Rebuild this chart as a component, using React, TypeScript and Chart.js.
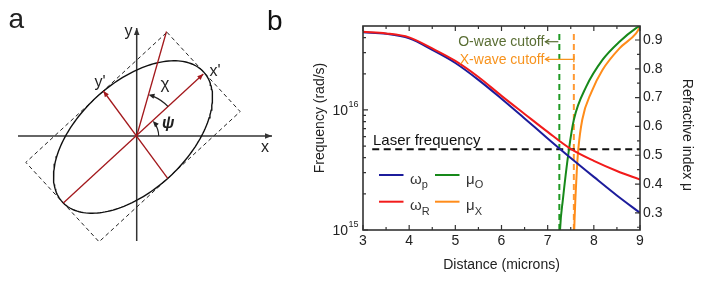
import React, { useEffect, useRef } from 'react';
import { Chart, registerables } from 'chart.js';
Chart.register(...registerables);

const FONT = "'Liberation Sans', Arial, Helvetica, sans-serif";

// ---------- Panel b data ----------
const distance = [3, 3.5, 4, 4.5, 5, 5.5, 6, 6.5, 7, 7.5, 8, 8.5, 9];
const omegaP = [4.43e16, 4.3e16, 3.94e16, 3.16e16, 2.46e16, 1.78e16, 1.24e16, 8.5e15, 5.79e15, 3.98e15, 2.77e15, 1.94e15, 1.39e15];
const omegaR = [4.47e16, 4.34e16, 4.02e16, 3.25e16, 2.56e16, 1.88e16, 1.31e16, 9.26e15, 6.56e15, 4.73e15, 3.76e15, 3.1e15, 2.63e15];
const muODistance = [7.255, 7.268, 7.329, 7.459, 7.567, 7.835, 8.187, 8.555, 8.915, 9.0];
const muO = [0.18, 0.241, 0.345, 0.518, 0.623, 0.738, 0.831, 0.894, 0.941, 0.949];
const muXDistance = [7.568, 7.582, 7.632, 7.662, 7.749, 7.95, 8.187, 8.555, 8.915, 9.0];
const muX = [0.2, 0.276, 0.449, 0.518, 0.623, 0.72, 0.796, 0.871, 0.923, 0.945];
const laserFrequency = 4.7e15;
const laserFrom = 3.2;
const oCutoff = 7.253;
const xCutoff = 7.567;
const cutoffTop = 0.935;
const freqRange = [1e15, 5.0e16];
const muRange = [0.2405, 0.9486];
const distRange = [3, 9];
const xTicks = [3, 4, 5, 6, 7, 8, 9];
const xMinorTicks = [3.5, 4.5, 5.5, 6.5, 7.5, 8.5];
const freqMajorTicks = [1e15, 1e16];
const freqTickExponents = ['15', '16'];
const freqMinorTicks = [2e15, 3e15, 4e15, 5e15, 6e15, 7e15, 8e15, 9e15, 2e16, 3e16, 4e16];
const muTicks = [0.3, 0.4, 0.5, 0.6, 0.7, 0.8, 0.9];
const muMinorTicks = [0.25, 0.35, 0.45, 0.55, 0.65, 0.75, 0.85];
const legendItems = [
  { label: 'ωp', main: 'ω', sub: 'p' },
  { label: 'μO', main: 'μ', sub: 'O' },
  { label: 'ωR', main: 'ω', sub: 'R' },
  { label: 'μX', main: 'μ', sub: 'X' },
];

// ---------- Panel a geometry ----------
const origin = [136.7, 136];
const xAxisEnds = [[18, 136], [272, 136]];
const yAxisEnds = [[136.7, 241], [136.7, 28]];
const ellipseCenter = [133, 137];
const ellipseSemiAxes = [96, 54];
const ellipseTiltDeg = 42.7;
const xPrimeLine = [[63.3, 203], [203.3, 74]];
const yPrimeLine = [[167.7, 178.3], [103.3, 91]];
const chiLine = [[136.7, 136], [166.5, 31.5]];

const BLUE = '#1c1c9c';
const RED = '#f21b1b';
const GREEN = '#17891a';
const ORANGE = '#ff8c1a';
const GREEN_DASH = '#1f9a23';
const ORANGE_DASH = '#ff9933';
const DARK_RED = '#a3181c';

const pts = (xs: number[], ys: number[]) => xs.map((x, i) => ({ x, y: ys[i] }));

function arrowHead(ctx: CanvasRenderingContext2D, tx: number, ty: number, dx: number, dy: number, len: number, half: number, color: string) {
  const n = Math.hypot(dx, dy);
  const ux = dx / n, uy = dy / n;
  ctx.beginPath();
  ctx.moveTo(tx, ty);
  ctx.lineTo(tx - ux * len - uy * half, ty - uy * len + ux * half);
  ctx.lineTo(tx - ux * len + uy * half, ty - uy * len - ux * half);
  ctx.closePath();
  ctx.fillStyle = color;
  ctx.fill();
}

function openArrow(ctx: CanvasRenderingContext2D, tx: number, ty: number, len: number, half: number) {
  ctx.beginPath();
  ctx.moveTo(tx + len, ty - half);
  ctx.lineTo(tx, ty);
  ctx.lineTo(tx + len, ty + half);
  ctx.stroke();
}

const panelBPlugin = {
  id: 'panelB',
  afterDraw(chart: any) {
    const ctx: CanvasRenderingContext2D = chart.ctx;
    const { left, right, top, bottom } = chart.chartArea;
    const xs = chart.scales.x, ys = chart.scales.y, y2 = chart.scales.y2;
    ctx.save();
    // frame
    ctx.strokeStyle = '#333';
    ctx.lineWidth = 1.6;
    ctx.strokeRect(left, top, right - left, bottom - top);
    ctx.lineWidth = 1.2;
    ctx.beginPath();
    xTicks.forEach(v => {
      const p = xs.getPixelForValue(v);
      ctx.moveTo(p, bottom); ctx.lineTo(p, bottom - 5);
      ctx.moveTo(p, top); ctx.lineTo(p, top + 5);
    });
    xMinorTicks.forEach(v => {
      const p = xs.getPixelForValue(v);
      ctx.moveTo(p, bottom); ctx.lineTo(p, bottom - 3);
      ctx.moveTo(p, top); ctx.lineTo(p, top + 3);
    });
    freqMajorTicks.forEach(v => {
      const p = ys.getPixelForValue(v);
      ctx.moveTo(left, p); ctx.lineTo(left + 5, p);
    });
    freqMinorTicks.forEach(v => {
      const p = ys.getPixelForValue(v);
      ctx.moveTo(left, p); ctx.lineTo(left + 3, p);
    });
    muTicks.forEach(v => {
      const p = y2.getPixelForValue(v);
      ctx.moveTo(right, p); ctx.lineTo(right - 5, p);
    });
    muMinorTicks.forEach(v => {
      const p = y2.getPixelForValue(v);
      ctx.moveTo(right, p); ctx.lineTo(right - 3, p);
    });
    ctx.stroke();

    // left tick labels 10^n
    ctx.fillStyle = '#222';
    ctx.textAlign = 'right';
    ctx.textBaseline = 'alphabetic';
    freqMajorTicks.forEach((v, i) => {
      const p = ys.getPixelForValue(v);
      ctx.font = `9px ${FONT}`;
      const supRight = left - 4.5;
      ctx.fillText(freqTickExponents[i], supRight, p - 3);
      const w = ctx.measureText(freqTickExponents[i]).width;
      ctx.font = `14px ${FONT}`;
      ctx.fillText('10', supRight - w - 0.5, p + 5);
    });

    // axis titles
    ctx.font = `14px ${FONT}`;
    ctx.textAlign = 'center';
    ctx.textBaseline = 'middle';
    ctx.save();
    ctx.translate(left - 43, (top + bottom) / 2 - 10);
    ctx.rotate(-Math.PI / 2);
    ctx.fillText('Frequency (rad/s)', 0, 0);
    ctx.restore();
    ctx.save();
    ctx.translate(right + 47, (top + bottom) / 2 + 7);
    ctx.rotate(Math.PI / 2);
    ctx.fillText('Refractive index μ', 0, 0);
    ctx.restore();

    // panel label
    ctx.font = `28px ${FONT}`;
    ctx.textAlign = 'left';
    ctx.textBaseline = 'alphabetic';
    ctx.fillStyle = '#111';
    ctx.fillText('b', left - 96, 30);

    // laser text
    const lp = ys.getPixelForValue(laserFrequency);
    ctx.font = `15px ${FONT}`;
    ctx.fillStyle = '#111';
    ctx.fillText('Laser frequency', left + 10, lp - 4.5);

    // cutoff annotations
    const xo = xs.getPixelForValue(oCutoff);
    const xx = xs.getPixelForValue(xCutoff);
    const tip = xo - 14;
    ctx.font = `14px ${FONT}`;
    ctx.textAlign = 'right';
    ctx.fillStyle = '#5a6e34';
    ctx.fillText('O-wave cutoff', tip - 1, top + 20);
    ctx.strokeStyle = '#5a6e34';
    ctx.lineWidth = 1.2;
    ctx.beginPath();
    ctx.moveTo(xo - 1, top + 15.7); ctx.lineTo(tip, top + 15.7);
    ctx.stroke();
    openArrow(ctx, tip, top + 15.7, 4, 2.5);
    ctx.fillStyle = '#f7931e';
    ctx.fillText('X-wave cutoff', tip - 1, top + 38.3);
    ctx.strokeStyle = '#f7931e';
    ctx.beginPath();
    ctx.moveTo(xx, top + 33.3); ctx.lineTo(tip, top + 33.3);
    ctx.moveTo(xx, top + 30.3); ctx.lineTo(xx, top + 36.3);
    ctx.stroke();
    openArrow(ctx, tip, top + 33.3, 4, 2.5);

    // legend
    const ds = chart.data.datasets;
    legendItems.forEach((it, i) => {
      const col = i % 2, row = Math.floor(i / 2);
      const lx = left + 16 + col * 56;
      const ly = top + 149 + row * 26.7;
      const d = ds.find((q: any) => q.label === it.label);
      ctx.strokeStyle = d.borderColor;
      ctx.lineWidth = 2;
      ctx.beginPath();
      ctx.moveTo(lx, ly); ctx.lineTo(lx + 24.5, ly);
      ctx.stroke();
      ctx.fillStyle = '#333';
      ctx.textAlign = 'left';
      ctx.font = `15px ${FONT}`;
      const tx = lx + 31;
      ctx.fillText(it.main, tx, ly + 8.5);
      const w = ctx.measureText(it.main).width;
      ctx.font = `11px ${FONT}`;
      ctx.fillText(it.sub, tx + w, ly + 13);
    });
    ctx.restore();
  },
};

const panelAPlugin = {
  id: 'panelA',
  afterDraw(chart: any) {
    const ctx: CanvasRenderingContext2D = chart.ctx;
    const xs = chart.scales.x, ys = chart.scales.y;
    const P = (p: number[]) => [xs.getPixelForValue(p[0]), ys.getPixelForValue(p[1])];
    ctx.save();
    // axis arrows
    const xa0 = P(xAxisEnds[0]), xa1 = P(xAxisEnds[1]);
    arrowHead(ctx, xa1[0], xa1[1], xa1[0] - xa0[0], xa1[1] - xa0[1], 7, 2.8, '#333');
    const ya0 = P(yAxisEnds[0]), ya1 = P(yAxisEnds[1]);
    arrowHead(ctx, ya1[0], ya1[1], ya1[0] - ya0[0], ya1[1] - ya0[1], 7, 2.8, '#333');
    // red arrows
    const xp0 = P(xPrimeLine[0]), xp1 = P(xPrimeLine[1]);
    arrowHead(ctx, xp1[0], xp1[1], xp1[0] - xp0[0], xp1[1] - xp0[1], 6, 2.5, DARK_RED);
    const yp0 = P(yPrimeLine[0]), yp1 = P(yPrimeLine[1]);
    arrowHead(ctx, yp1[0], yp1[1], yp1[0] - yp0[0], yp1[1] - yp0[1], 6, 2.5, DARK_RED);
    // arcs
    const o = P(origin);
    const angX = Math.atan2(xp1[1] - o[1], xp1[0] - o[0]);
    const c1 = P(chiLine[1]);
    const angChi = Math.atan2(c1[1] - o[1], c1[0] - o[0]);
    ctx.strokeStyle = '#222';
    ctx.lineWidth = 1.2;
    const arcWithHead = (r: number, a0: number, a1: number) => {
      ctx.beginPath();
      ctx.arc(o[0], o[1], r, a0, a1 + 0.12, true);
      ctx.stroke();
      const tx = o[0] + r * Math.cos(a1), ty = o[1] + r * Math.sin(a1);
      arrowHead(ctx, tx, ty, Math.sin(a1), -Math.cos(a1), 6, 2.6, '#222');
    };
    arcWithHead(22, 0, angX);
    arcWithHead(43, angX, angChi);
    // labels
    ctx.fillStyle = '#222';
    ctx.textAlign = 'left';
    ctx.textBaseline = 'alphabetic';
    ctx.font = `28px ${FONT}`;
    ctx.fillText('a', 8.5, 28.3);
    ctx.font = `16px ${FONT}`;
    ctx.fillText('x', 261, 152);
    ctx.fillText('y', 124.5, 36);
    ctx.fillText("x'", 209.5, 75.5);
    ctx.fillText("y'", 94.5, 87);
    ctx.font = `17px ${FONT}`;
    ctx.fillText('χ', 160.5, 89);
    ctx.font = `italic bold 16px ${FONT}`;
    ctx.fillText('ψ', 162, 128);
    ctx.restore();
  },
};

function ellipsePoints() {
  const t = (ellipseTiltDeg * Math.PI) / 180;
  const u = [Math.cos(t), -Math.sin(t)];
  const v = [-Math.sin(t), -Math.cos(t)];
  const [a, b] = ellipseSemiAxes;
  const [cx, cy] = ellipseCenter;
  const ell = [];
  for (let i = 0; i <= 180; i++) {
    const s = (i / 180) * 2 * Math.PI;
    ell.push({ x: cx + a * Math.cos(s) * u[0] + b * Math.sin(s) * v[0], y: cy + a * Math.cos(s) * u[1] + b * Math.sin(s) * v[1] });
  }
  const corner = (sa: number, sb: number) => ({ x: cx + sa * a * u[0] + sb * b * v[0], y: cy + sa * a * u[1] + sb * b * v[1] });
  const rect = [corner(1, 1), corner(1, -1), corner(-1, -1), corner(-1, 1), corner(1, 1)];
  return { ell, rect };
}

const seg = (p: number[][]) => p.map(q => ({ x: q[0], y: q[1] }));

export default function App() {
  const aRef = useRef<HTMLCanvasElement>(null);
  const bRef = useRef<HTMLCanvasElement>(null);
  useEffect(() => {
    const { ell, rect } = ellipsePoints();
    const lineDs = (data: any, color: string, width: number, dash: number[] = []) => ({
      data, borderColor: color, borderWidth: width, borderDash: dash, showLine: true, pointRadius: 0, tension: 0, fill: false,
    });
    const ca = new Chart(aRef.current!, {
      type: 'scatter',
      data: {
        datasets: [
          lineDs(seg(xPrimeLine), DARK_RED, 1.3),
          lineDs(seg(yPrimeLine), DARK_RED, 1.3),
          lineDs(seg(chiLine), DARK_RED, 1.3),
          lineDs(ell, '#111', 1.4),
          lineDs(rect, '#222', 1, [4, 3]),
          lineDs(seg(xAxisEnds), '#333', 1.5),
          lineDs(seg(yAxisEnds), '#333', 1.5),
        ] as any,
      },
      options: {
        responsive: false,
        animation: false,
        events: [],
        layout: { padding: 0 },
        plugins: { legend: { display: false }, tooltip: { enabled: false } },
        scales: {
          x: { type: 'linear', min: 0, max: 300, display: false },
          y: { type: 'linear', min: 0, max: 283, reverse: true, display: false },
        },
      } as any,
      plugins: [panelAPlugin],
    });

    const curve = (label: string, data: any, color: string, axis: string) => ({
      label, data, borderColor: color, borderWidth: 2, pointRadius: 0, cubicInterpolationMode: 'monotone', yAxisID: axis, fill: false,
    });
    const cb = new Chart(bRef.current!, {
      type: 'line',
      data: {
        datasets: [
          curve('ωR', pts(distance, omegaR), RED, 'y'),
          curve('ωp', pts(distance, omegaP), BLUE, 'y'),
          curve('μO', pts(muODistance, muO), GREEN, 'y2'),
          curve('μX', pts(muXDistance, muX), ORANGE, 'y2'),
          { label: 'laser', data: pts([laserFrom, distRange[1]], [laserFrequency, laserFrequency]), borderColor: '#111', borderWidth: 2, borderDash: [7, 4.5], pointRadius: 0, yAxisID: 'y' },
          { label: 'Ocut', data: pts([oCutoff, oCutoff], [muRange[0], cutoffTop]), borderColor: GREEN_DASH, borderWidth: 2, borderDash: [6, 4], pointRadius: 0, yAxisID: 'y2' },
          { label: 'Xcut', data: pts([xCutoff, xCutoff], [muRange[0], cutoffTop]), borderColor: ORANGE_DASH, borderWidth: 2, borderDash: [6, 4], pointRadius: 0, yAxisID: 'y2' },
        ] as any,
      },
      options: {
        responsive: false,
        animation: false,
        events: [],
        layout: { padding: { left: 108, top: 26, right: 0, bottom: 5 } },
        plugins: { legend: { display: false }, tooltip: { enabled: false } },
        scales: {
          x: {
            type: 'linear', min: distRange[0], max: distRange[1], position: 'bottom',
            grid: { display: false, drawTicks: false }, border: { display: false },
            ticks: { font: { size: 14, family: FONT }, color: '#222', padding: 3, maxRotation: 0 },
            afterBuildTicks: (s: any) => { s.ticks = xTicks.map(v => ({ value: v })); },
            afterFit: (s: any) => { s.height = 48; },
            title: { display: true, text: 'Distance (microns)', font: { size: 14, family: FONT }, color: '#222' },
          },
          y: { type: 'logarithmic', min: freqRange[0], max: freqRange[1], display: false },
          y2: {
            type: 'linear', position: 'right', min: muRange[0], max: muRange[1],
            grid: { display: false, drawTicks: false }, border: { display: false },
            ticks: { font: { size: 14, family: FONT }, color: '#222', padding: 3, callback: (v: any) => Number(v).toFixed(1) },
            afterBuildTicks: (s: any) => { s.ticks = muTicks.map(v => ({ value: v })); },
            afterFit: (s: any) => { s.width = 66; },
          },
        },
      } as any,
      plugins: [panelBPlugin],
    });
    return () => { ca.destroy(); cb.destroy(); };
  }, []);
  return (
    <div style={{ position: 'absolute', left: 0, top: 0, width: 706, height: 283, background: '#fff' }}>
      <canvas ref={aRef} width={300} height={283} style={{ position: 'absolute', left: 0, top: 0, width: 300, height: 283 }} />
      <canvas ref={bRef} width={451} height={283} style={{ position: 'absolute', left: 255, top: 0, width: 451, height: 283 }} />
    </div>
  );
}
